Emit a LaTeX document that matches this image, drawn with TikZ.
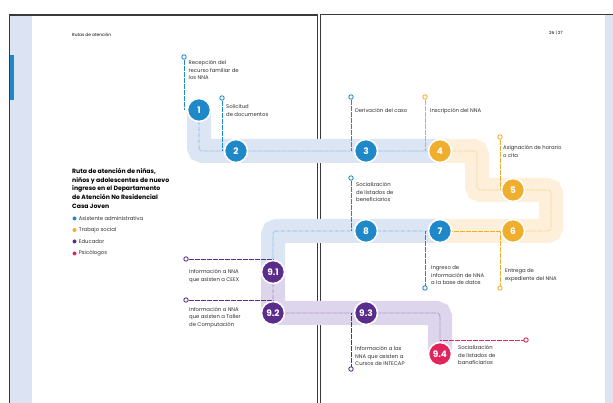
\documentclass[tikz,border=0pt]{standalone}
\usepackage{fontspec}
\setmainfont{Poppins}
\usetikzlibrary{positioning,calc}
\definecolor{asistblue}{HTML}{1F88C9}
\definecolor{socialorange}{HTML}{EFAE2E}
\definecolor{educpurple}{HTML}{5A2C8C}
\definecolor{psicored}{HTML}{E2245C}
\definecolor{bandblue}{HTML}{DCE5F4}
\definecolor{bandorange}{HTML}{FDEFD9}
\definecolor{bandpurple}{HTML}{DDD5EB}
\definecolor{pagegray}{HTML}{3A3A3A}
\definecolor{stripblue}{HTML}{DCE4F4}
\definecolor{textgray}{HTML}{2E2E2E}
\pgfdeclarelayer{pages}
\pgfdeclarelayer{bands}
\pgfdeclarelayer{leaders}
\pgfsetlayers{pages,bands,leaders,main}
\tikzset{
  stepnode/.style={circle,draw=white,line width=1.6pt,minimum size=23pt,inner sep=0pt,text=white,font=\fontsize{9}{9}\selectfont\bfseries},
  bluestep/.style={stepnode,fill=asistblue},
  orangestep/.style={stepnode,fill=socialorange},
  purplestep/.style={stepnode,fill=educpurple},
  redstep/.style={stepnode,fill=psicored},
  ringmark/.style={circle,draw=#1,fill=white,line width=0.9pt,minimum size=4.4pt,inner sep=0pt},
  legenddot/.style={circle,fill=#1,minimum size=4pt,inner sep=0pt},
  steptext/.style={anchor=north west,align=left,inner sep=0pt,text=textgray,font=\fontsize{5.3}{7.5}\selectfont},
  titletext/.style={anchor=north west,align=left,inner sep=0pt,text=black,font=\fontsize{6.15}{8.7}\selectfont\bfseries},
  band/.style={draw=#1,line width=24pt,rounded corners=4pt},
  leader/.style={draw=#1,line width=0.6pt,dash pattern=on 0.3pt off 0.9pt},
  route/.style={leader=#1,rounded corners=3pt},
  pageline/.style={draw=pagegray,line width=1.1pt}
}
\begin{document}
\begin{tikzpicture}[x=1pt,y=-1pt]
  \useasboundingbox (0,0) rectangle (613,403);
  % pages
  \begin{pgfonlayer}{pages}
    \fill[stripblue] (10,15) rectangle (32,403);
    \fill[stripblue] (605,15) rectangle (613,403);
    \fill[asistblue] (10,55) rectangle (13.5,100);
    \draw[pageline] (9.5,404) |- (317.5,15) -- (317.5,404);
    \draw[pageline,line width=0.9pt] (320.5,14.5) -- (614,14.5);
    \draw[pageline,line width=1.8pt] (320.5,404) -- (320.5,14);
  \end{pgfonlayer}
  \node[anchor=west,inner sep=0pt,font=\fontsize{4.3}{5}\selectfont] (header) at (72,35) {Rutas de atención};
  \node[anchor=west,inner sep=0pt,font=\fontsize{4.3}{5}\selectfont] (pages) at (549,33) {26 | 27};
  % title and legend
  \node[titletext] (title) at (72,168) {Ruta de atención de niñas,\\niños y adolescentes de nuevo\\ingreso en el Departamento\\de Atención No Residencial\\Casa Joven};
  \node[legenddot=asistblue] (leg1) at (74.5,218.5) {};
  \node[legenddot=socialorange] (leg2) at (74.5,230) {};
  \node[legenddot=educpurple] (leg3) at (74.5,241.5) {};
  \node[legenddot=psicored] (leg4) at (74.5,253.5) {};
  \node[steptext,anchor=west,right=2pt of leg1] {Asistente administrativa};
  \node[steptext,anchor=west,right=2pt of leg2] {Trabajo social};
  \node[steptext,anchor=west,right=2pt of leg3] {Educador};
  \node[steptext,anchor=west,right=2pt of leg4] {Psicólogos};
  % steps
  \node[bluestep] (n1) at (199,110) {1};
  \node[bluestep] (n2) at (236,151) {2};
  \node[bluestep] (n3) at (366,151) {3};
  \node[orangestep] (n4) at (440,151) {4};
  \node[orangestep] (n5) at (513,190) {5};
  \node[orangestep] (n6) at (513,231) {6};
  \node[bluestep] (n7) at (440,231) {7};
  \node[bluestep] (n8) at (366,231) {8};
  \node[purplestep] (n91) at (273,272) {9.1};
  \node[purplestep] (n92) at (273,313) {9.2};
  \node[purplestep] (n93) at (366,313) {9.3};
  \node[redstep] (n94) at (440,354) {9.4};
  \coordinate (t4a) at (477,151);
  \coordinate (t4b) at (477,190);
  \coordinate (t5a) at (551,190);
  \coordinate (t5b) at (551,231);
  \coordinate (t8) at (273,231);
  \coordinate (t93) at (440,313);
  % markers
  \node[ringmark=asistblue] (m1) at (184,57) {};
  \node[ringmark=asistblue] (m2) at (222,98) {};
  \node[ringmark=asistblue] (m3) at (351,97) {};
  \node[ringmark=socialorange] (m4) at (425,97) {};
  \node[ringmark=socialorange] (m5) at (500,137) {};
  \node[ringmark=asistblue] (m8) at (351,178) {};
  \node[ringmark=asistblue] (m7) at (425,288) {};
  \node[ringmark=socialorange] (m6) at (500,288) {};
  \node[ringmark=educpurple] (m91) at (186,259) {};
  \node[ringmark=educpurple] (m92) at (186,300) {};
  \node[ringmark=educpurple] (m93) at (351,369) {};
  \node[ringmark=psicored] (m94) at (526,340) {};
  % texts
  \node[steptext] (s1) at (188.5,60.5) {Recepción del\\recurso familiar de\\los NNA};
  \node[steptext] (s2) at (226,104.5) {Solicitud\\de documentos};
  \node[steptext] (s3) at (355,108) {Derivación del caso};
  \node[steptext] (s4) at (430,108) {Inscripción del NNA};
  \node[steptext] (s5) at (503,145.5) {Asignación de horario\\o cita};
  \node[steptext] (s8) at (356,182.5) {Socialización\\de listados de\\beneficiarios};
  \node[steptext] (s7) at (431,265.5) {Ingreso de\\información de NNA\\a la base de datos};
  \node[steptext] (s6) at (505,268.5) {Entrega de\\expediente del NNA};
  \node[steptext] (s91) at (189,269.5) {Información a NNA\\que asisten a CEEX};
  \node[steptext] (s92) at (189,307) {Información a NNA\\que asisten a Taller\\de Computación};
  \node[steptext] (s93) at (355,346.5) {Información a las\\NNA que asisten a\\Cursos de INTECAP};
  \node[steptext] (s94) at (458,345.5) {Socialización\\de listados de\\banaficiarios};
  % route bands
  \begin{pgfonlayer}{bands}
    \draw[band=bandblue] (n1.center) |- (n4.center);
    \draw[band=bandorange] (n4.center) -- (t4a) -- (t4b) -- (t5a) -- (t5b) -- (n7.center);
    \draw[band=bandblue] (n7.center) -- (t8) -- (n91.center);
    \draw[band=bandpurple] (n91.center) |- (t93) -- (n94.center);
  \end{pgfonlayer}
  % dotted routes and leaders
  \begin{pgfonlayer}{leaders}
    \draw[route=asistblue] (n1) |- (n4);
    \draw[route=socialorange] (n4) -- (t4a) -- (t4b) -- (n5);
    \draw[route=socialorange] (n5) -- (t5a) -- (t5b) -- (n6);
    \draw[leader=socialorange] (n6) -- (n7);
    \draw[route=asistblue] (n7) -- (t8) -- (n91);
    \draw[route=educpurple] (n91) |- (n93) -- (t93) -- (n94);
    \draw[leader=asistblue] (m1) -- (m1 |- n1);
    \draw[leader=asistblue] (m2) -- (m2 |- n2);
    \draw[leader=asistblue] (m3) -- (m3 |- n3);
    \draw[leader=socialorange] (m4) -- (m4 |- n4);
    \draw[leader=socialorange] (m5) -- (m5 |- n5);
    \draw[leader=asistblue] (m8) -- (m8 |- n8);
    \draw[leader=asistblue] (m7) -- (m7 |- n7);
    \draw[leader=socialorange] (m6) -- (m6 |- n6);
    \draw[leader=educpurple] (m91) -- (m91 -| n91);
    \draw[leader=educpurple] (m92) -- (m92 -| n92);
    \draw[leader=educpurple] (m93) -- (m93 |- n93);
    \draw[leader=psicored] (m94) -- (m94 -| n94);
  \end{pgfonlayer}
\end{tikzpicture}
\end{document}
